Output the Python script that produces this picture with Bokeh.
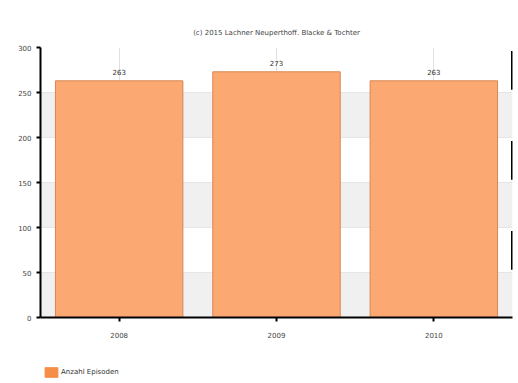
from bokeh.plotting import figure
from bokeh.layouts import column
from bokeh.models import ColumnDataSource, FactorRange, Range1d, Legend, LegendItem, FixedTicker, LabelSet, BoxAnnotation
from bokeh.core.properties import value
from bokeh.embed import file_html
from bokeh.resources import INLINE

title_text = "(c) 2015 Lachner Neuperthoff. Blacke & Tochter"
categories = ["2008", "2009", "2010"]
counts = [263, 273, 263]
series_name = "Anzahl Episoden"
y_ticks = [0, 50, 100, 150, 200, 250, 300]

BAR_FILL = "#FBA873"
BAR_LINE = "#D98650"
SWATCH_FILL = "#F58E47"

src = ColumnDataSource(dict(cat=categories, val=counts, lbl=[str(v) for v in counts]))

p = figure(x_range=FactorRange(*categories, range_padding=0), y_range=Range1d(0, 300),
           width=516, height=359, output_backend="svg", toolbar_location=None,
           min_border_left=40, min_border_right=4, min_border_top=47, min_border_bottom=42)
p.title.text = title_text
p.title.align = "center"
p.title.text_font_size = "7px"
p.title.text_font_style = "normal"
p.title.text_color = "#444444"
p.title.text_font = "DejaVu Sans"
p.title.standoff = 22

# alternating shaded bands: 0-50, 100-150, 200-250
for lo, hi in zip(y_ticks[0::2], y_ticks[1::2]):
    p.add_layout(BoxAnnotation(bottom=lo, top=hi, fill_color="#eeeeee", fill_alpha=0.9,
                               line_color=None, level="underlay"))

r = p.vbar(x="cat", top="val", width=0.81, source=src,
           fill_color=BAR_FILL, line_color=BAR_LINE, line_width=1)

labels = LabelSet(x="cat", y="val", text="lbl", source=src, text_align="center",
                  y_offset=6, text_font_size="7px", text_color="#333333",
                  text_font=value("DejaVu Sans"))
p.add_layout(labels)

# right-edge black dashes over the unshaded bands
white_lo = y_ticks[1::2]
white_hi = y_ticks[2::2]
edge = [(categories[-1], 0.5)] * len(white_lo)
p.segment(x0=edge, x1=edge, y0=[v + 3 for v in white_lo],
          y1=[v - 4 for v in white_hi], line_color="black", line_width=3)

p.outline_line_color = None
p.background_fill_color = "white"

p.yaxis.ticker = FixedTicker(ticks=y_ticks)
p.ygrid.ticker = FixedTicker(ticks=y_ticks)
p.ygrid.grid_line_color = "#dddddd"
p.xgrid.grid_line_color = "#cccccc"
p.xgrid.grid_line_alpha = 0.6

for ax in (p.xaxis, p.yaxis):
    ax.axis_line_color = "black"
    ax.axis_line_width = 2
    ax.major_tick_line_color = "black"
    ax.major_tick_line_width = 2
    ax.major_tick_out = 4
    ax.major_tick_in = 0
    ax.minor_tick_line_color = None
    ax.major_label_text_font_size = "7px"
    ax.major_label_text_color = "#444444"
    ax.major_label_text_font = "DejaVu Sans"
p.xaxis.major_label_standoff = 10

# legend strip below the chart
p2 = figure(width=516, height=22, output_backend="svg", toolbar_location=None,
            x_range=Range1d(0, 1), y_range=Range1d(0, 1),
            x_axis_location=None, y_axis_location=None,
            min_border=0, outline_line_color=None)
p2.grid.visible = False
src2 = ColumnDataSource(dict(x=[-10], top=[-10]))
r2 = p2.vbar(x="x", top="top", width=0.5, source=src2, fill_color=SWATCH_FILL, line_color=SWATCH_FILL)
legend = Legend(items=[LegendItem(label=series_name, renderers=[r2])],
                orientation="horizontal", location=(3, 3),
                label_text_font_size="7px", label_text_font="DejaVu Sans",
                label_text_color="#333333",
                glyph_width=16, glyph_height=12, label_standoff=2,
                border_line_color=None, background_fill_alpha=0, padding=2, margin=0)
p2.add_layout(legend)

open("out.html", "w").write(file_html(column(p, p2, spacing=0), INLINE))
